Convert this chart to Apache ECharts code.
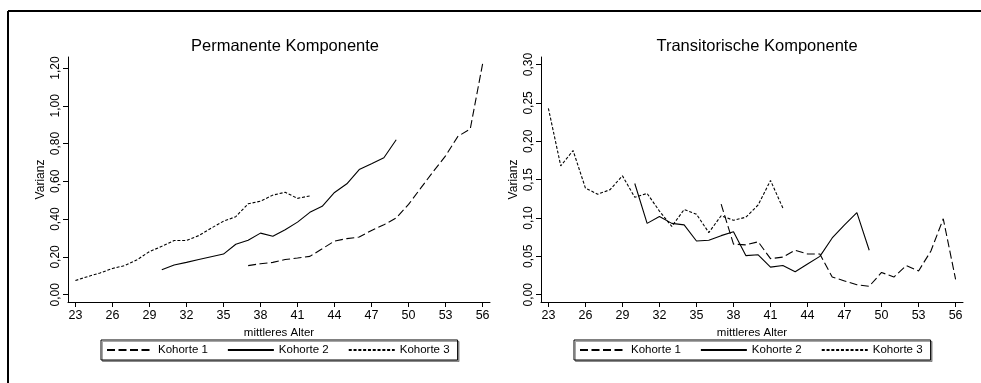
<!DOCTYPE html>
<html>
<head>
<meta charset="utf-8">
<script src="https://cdn.jsdelivr.net/npm/echarts@6/dist/echarts.min.js"></script>
<style>html,body{margin:0;padding:0;background:#fff}#c{width:981px;height:383px}</style>
</head>
<body>
<div id="c"></div>
<script>
// ---- data ----
var agesK1 = [37,38,39,40,41,42,43,44,45,46,47,48,49,50,51,52,53,54,55,56];
var agesK2 = [30,31,32,33,34,35,36,37,38,39,40,41,42,43,44,45,46,47,48,49];
var agesK3 = [23,24,25,26,27,28,29,30,31,32,33,34,35,36,37,38,39,40,41,42];

var permK1 = [0.154,0.164,0.171,0.186,0.194,0.203,0.243,0.284,0.297,0.305,0.340,0.370,0.406,0.478,0.565,0.652,0.735,0.838,0.877,1.222];
var permK2 = [0.132,0.157,0.171,0.186,0.201,0.215,0.267,0.288,0.326,0.309,0.344,0.384,0.436,0.468,0.541,0.587,0.662,0.693,0.725,0.820];
var permK3 = [0.075,0.096,0.115,0.139,0.154,0.185,0.228,0.256,0.287,0.287,0.313,0.352,0.389,0.413,0.481,0.495,0.527,0.542,0.510,0.523];

var tranK1 = [0.118,0.066,0.065,0.069,0.047,0.049,0.058,0.053,0.053,0.023,0.018,0.013,0.011,0.029,0.023,0.038,0.031,0.057,0.099,0.020];
var tranK2 = [0.145,0.093,0.102,0.093,0.091,0.070,0.071,0.077,0.082,0.051,0.052,0.036,0.038,0.030,0.040,0.050,0.074,0.091,0.107,0.058];
var tranK3 = [0.243,0.168,0.188,0.139,0.131,0.137,0.155,0.127,0.132,0.109,0.089,0.111,0.105,0.081,0.103,0.097,0.101,0.117,0.149,0.113];

var xTicks = [23,26,29,32,35,38,41,44,47,50,53,56];
var yTicksPerm = [0,0.2,0.4,0.6,0.8,1.0,1.2];
var yTicksTran = [0,0.05,0.10,0.15,0.20,0.25,0.30];
var seriesNames = ['Kohorte 1','Kohorte 2','Kohorte 3'];
var panelTitles = ['Permanente Komponente','Transitorische Komponente'];
var xName = 'mittleres Alter';
var yName = 'Varianz';

// ---- build ----
var FONT = '"Liberation Sans", Arial, sans-serif';
function pairs(xs, ys){ return xs.map(function(x,i){ return [x, ys[i]]; }); }
function fmt(v){ return v.toFixed(2).replace('.', ','); }
var dashTypes = [[8,3.5], 'solid', [3,1.8]];

function xAxis(gi){
  return {
    type:'value', gridIndex:gi, min:22.4, max:56.6,
    name:xName, nameLocation:'middle', nameGap:19,
    nameTextStyle:{color:'#000', fontFamily:FONT, fontSize:11.5},
    axisLine:{show:true, onZero:false, lineStyle:{color:'#000', width:1}},
    axisTick:{show:true, length:5, customValues:xTicks, lineStyle:{color:'#000'}},
    axisLabel:{customValues:xTicks, color:'#000', fontFamily:FONT, fontSize:12.5, margin:7},
    splitLine:{show:false}
  };
}
function yAxis(gi, mn, mx, ticks){
  return {
    type:'value', gridIndex:gi, min:mn, max:mx,
    name:yName, nameLocation:'middle', nameGap:21, nameRotate:90,
    nameTextStyle:{color:'#000', fontFamily:FONT, fontSize:12},
    axisLine:{show:true, onZero:false, lineStyle:{color:'#000', width:1}},
    axisTick:{show:true, length:5, customValues:ticks, lineStyle:{color:'#000'}},
    axisLabel:{customValues:ticks, rotate:90, color:'#000', fontFamily:FONT, fontSize:12, margin:6, formatter:fmt},
    splitLine:{show:false}
  };
}
function line(name, gi, data, k){
  return {
    name:name, type:'line', xAxisIndex:gi, yAxisIndex:gi, data:data,
    symbol:'none', silent:true, animation:false,
    lineStyle:{color:'#000', width:1.1, type:dashTypes[k]},
    itemStyle:{color:'#000'}
  };
}
function legend(left){
  return {
    data:seriesNames, left:left, top:340, orient:'horizontal',
    itemWidth:46, itemHeight:12, itemGap:19,
    padding:[4,8,4,5], borderColor:'#000', borderWidth:1,
    backgroundColor:'#fff', shadowColor:'rgba(0,0,0,0.35)', shadowOffsetX:1.5, shadowOffsetY:1.5, shadowBlur:0,
    itemStyle:{opacity:0, borderWidth:0},
    textStyle:{color:'#000', fontFamily:FONT, fontSize:11.5},
    selectedMode:false
  };
}

var option = {
  animation:false,
  backgroundColor:'#fff',
  title:[
    {text:panelTitles[0], left:280, top:33, textAlign:'center', textStyle:{color:'#000', fontFamily:FONT, fontSize:16.5, fontWeight:'normal'}},
    {text:panelTitles[1], left:752, top:33, textAlign:'center', textStyle:{color:'#000', fontFamily:FONT, fontSize:16.5, fontWeight:'normal'}}
  ],
  grid:[
    {left:68, top:57, width:422, height:245},
    {left:541, top:57, width:422, height:245}
  ],
  xAxis:[xAxis(0), xAxis(1)],
  yAxis:[yAxis(0,-0.0386,1.258,yTicksPerm), yAxis(1,-0.0095,0.3099,yTicksTran)],
  legend:[legend(101), legend(574)],
  series:[
    line(seriesNames[0],0,pairs(agesK1,permK1),0),
    line(seriesNames[1],0,pairs(agesK2,permK2),1),
    line(seriesNames[2],0,pairs(agesK3,permK3),2),
    line(seriesNames[0],1,pairs(agesK1,tranK1),0),
    line(seriesNames[1],1,pairs(agesK2,tranK2),1),
    line(seriesNames[2],1,pairs(agesK3,tranK3),2)
  ],
  graphic:[
    {type:'line', shape:{x1:8, y1:11, x2:981, y2:11}, style:{stroke:'#000', lineWidth:2}, silent:true},
    {type:'line', shape:{x1:8, y1:11, x2:8, y2:383}, style:{stroke:'#000', lineWidth:2}, silent:true}
  ]
};
var chart = echarts.init(document.getElementById('c'), null, {renderer:'canvas'});
chart.setOption(option);
</script>
</body>
</html>
